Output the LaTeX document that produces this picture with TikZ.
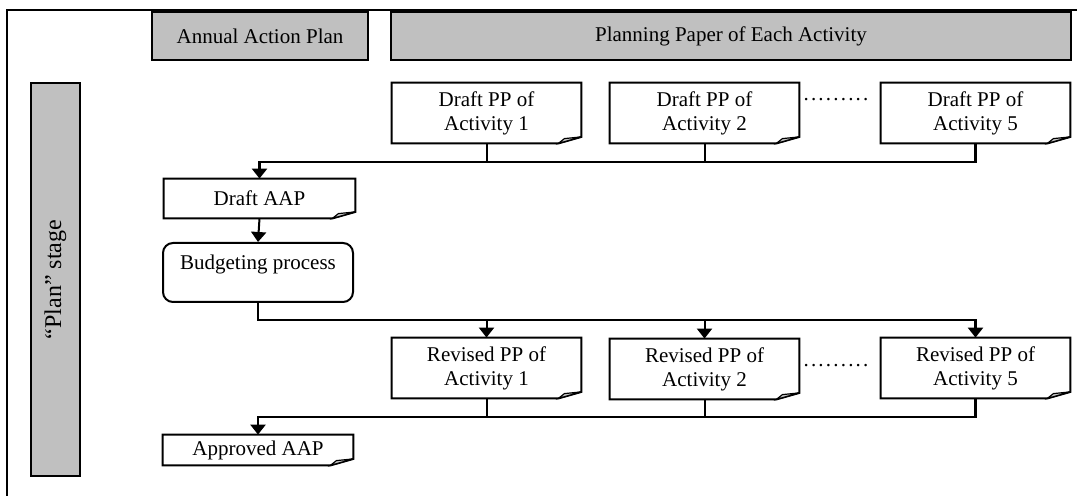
\documentclass[tikz,border=0pt]{standalone}
\usepackage{fontspec}
\setmainfont{Liberation Serif}
\usetikzlibrary{arrows.meta}
\definecolor{hdrgray}{RGB}{192,192,192}
\definecolor{foldgray}{RGB}{200,200,200}
\begin{document}
\begin{tikzpicture}[x=0.5pt,y=-0.5pt,
  font=\fontsize{10.5pt}{12pt}\selectfont,
  hdr/.style={draw, fill=hdrgray, line width=1pt, inner sep=0pt, align=center},
  doc/.style={inner sep=0pt, minimum width=94.5pt, minimum height=30pt, align=center},
  proc/.style={draw, rounded corners=5pt, line width=1pt, inner sep=0pt, align=center,
               minimum width=95pt, minimum height=29.5pt},
  link/.style={line width=1pt},
  bus/.style={line width=1.3pt},
  arr/.style={-{Triangle[width=7.5pt,length=5pt]}},
  gap/.style={inner sep=0pt}
]
\useasboundingbox (0,0) rectangle (1077,496);

% open frame around the stage
\draw[line width=0.8pt] (1077,10) -- (7,10) -- (7,496);

% column and row headers
\node[hdr, minimum width=108pt, minimum height=24pt] (hAAP) at (260,36) {Annual Action Plan};
\node[hdr, minimum width=340pt, minimum height=24pt] (hPP) at (731,36) {Planning Paper of Each Activity};
\node[hdr, rotate=90, minimum width=196.5pt, minimum height=24.5pt,
      font=\fontsize{12pt}{14pt}\selectfont] (stage) at (55.5,279.5) {``Plan'' stage};

% draft planning papers
\node[doc] (d1) at (486.5,113) {Draft PP of\\Activity 1};
\node[doc] (d2) at (704.5,113) {Draft PP of\\Activity 2};
\node[doc] (d5) at (975.5,113) {Draft PP of\\Activity 5};
\node[gap] (e1) at (836,100) {.\hspace{1.1pt}.\hspace{1.1pt}.\hspace{1.1pt}.\hspace{1.1pt}.\hspace{1.1pt}.\hspace{1.1pt}.\hspace{1.1pt}.\hspace{1.1pt}.};

% annual plan steps
\node[doc, minimum width=95.5pt, minimum height=19.5pt] (daap) at (259.5,198.5) {Draft AAP};
\node[proc] (budget) at (258,272.5) {Budgeting process\\[-5pt]\strut};

% revised planning papers
\node[doc] (r1) at (486.5,368) {Revised PP of\\Activity 1};
\node[doc] (r2) at (704.5,369) {Revised PP of\\Activity 2};
\node[doc] (r5) at (975.5,368) {Revised PP of\\Activity 5};
\node[gap] (e2) at (836,366) {.\hspace{1.1pt}.\hspace{1.1pt}.\hspace{1.1pt}.\hspace{1.1pt}.\hspace{1.1pt}.\hspace{1.1pt}.\hspace{1.1pt}.\hspace{1.1pt}.};

\node[doc, minimum width=95pt, minimum height=15pt] (appr) at (258,450) {Approved AAP};

% document outlines with a folded bottom-right corner
\foreach \n in {d1,d2,d5,daap,r1,r2,r5,appr} {
  \draw[line width=1pt, line join=miter]
    (\n.north west) -- (\n.north east) -- ([yshift=3.25pt]\n.south east)
    -- ([xshift=-11.5pt]\n.south east) -- (\n.south west) -- cycle;
  \filldraw[fill=foldgray, line width=0.6pt]
    ([xshift=-11.5pt]\n.south east) -- ([xshift=-8.5pt,yshift=2.4pt]\n.south east)
    -- ([yshift=3.25pt]\n.south east) -- cycle;
}

% drafts merge into the draft AAP
\coordinate (join1) at (259.5,162);
\draw[link] (d1.south) -- (d1.south |- join1);
\draw[link] (d2.south) -- (d2.south |- join1);
\draw[bus, arr] (d5.south) |- (join1) -- (daap.north);

\draw[link, arr] (daap.south) -- (budget.north);

% budgeting splits into the revised papers
\coordinate (split) at (258,320);
\draw[bus, arr] (budget.south) -- (split) -| (r5.north);
\draw[link, arr] (r1.north |- split) -- (r1.north);
\draw[link, arr] (r2.north |- split) -- (r2.north);

% revised papers merge into the approved AAP
\coordinate (join2) at (258,417);
\draw[link] (r1.south) -- (r1.south |- join2);
\draw[link] (r2.south) -- (r2.south |- join2);
\draw[bus, arr] (r5.south) |- (join2) -- (appr.north);
\end{tikzpicture}
\end{document}
